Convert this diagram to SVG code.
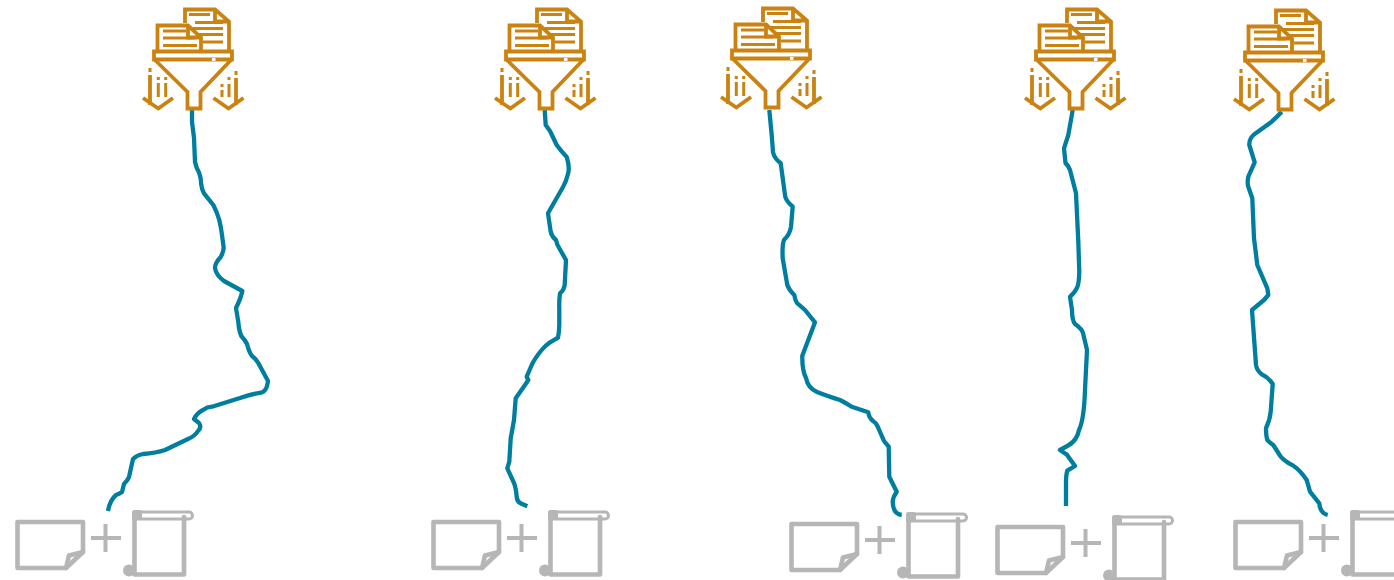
<svg xmlns="http://www.w3.org/2000/svg" width="1394" height="580" viewBox="0 0 1394 580">
<style>
.o{fill:none;stroke:#ca8210;stroke-width:3.8;stroke-linejoin:miter}
.t{stroke-width:3}
.g{fill:none;stroke:#b6b6b6;stroke-width:4.600;stroke-linejoin:round;stroke-linecap:round}
.b{stroke-width:3;}
.p{stroke-width:4;stroke-linecap:butt}
.c{fill:none;stroke:#007ea0;stroke-width:4.300;stroke-linejoin:round;stroke-linecap:butt}
</style>
<defs>
<g id="funnel">
<path class="o" d="M185 23V9.500H215L229 21.500V50M215 9.500V21.500H229"/>
<path class="o t" d="M189 14.500H210M195 22.500H223M192 28.500H223M198 34.500H223M203 42H223"/>
<path class="o" d="M157.500 50V25.500H188L201 37.500V50M188 25.500V37.500H201"/>
<path class="o t" d="M163 31H186M163 38H195M163 45.500H197"/>
<path class="o" d="M154 51.500H232V59.500H154Z"/>
<path d="M212 58H215.500V61H212Z" fill="#fff"/>
<path class="o" d="M155 60L187.500 92V108.500H200.500V92L231 60"/>
<path class="o" d="M143 98L158.300 108.500L173 98M150 75V105M213.500 98L228.500 108.500L243.500 98M236 78V105"/>
<path class="o t" d="M150 68V72M158.300 77V80M158.300 83V97M165.700 77V80M165.700 83V97M236 71V75M229 77V80M229 84V97M222 84V87M222 90V97"/>
</g>
<g id="docs">
<path class="g" d="M83 522H17.500V568H66L83 552Z"/>
<path class="g" d="M83 552L69 555.500L66 568"/>
<path class="g p" d="M91 538H121M105.500 524V552"/>
<path class="g" d="M134.500 514V574.500H184V517"/>
<path class="g b" d="M134 512H189A3.500 3.500 0 0 1 189 519H134Z"/>
<rect x="132" y="510" width="10" height="10" rx="2.500" fill="#b6b6b6"/>
<circle cx="129" cy="570.500" r="6" fill="#b6b6b6"/>
</g>
</defs>
<g id="connectors">
<path class="c" d="M192 110L192 122 194 138 195 162Q196 167 199.300 173.300Q201 178 201.300 185Q202 190 204 193.300L213.300 205Q217 212 219.300 220Q221 227 222 235L223.700 248Q223 253 220.700 257Q215 263 215 268Q216 275 224 281L242.300 291Q241 298 236 308L238.300 322Q239 331 241.300 336Q245 340 247 344Q249 352 252 356Q256 359 258.300 363L268 381Q267 388 265 390Q263 393 257 393.300Q248 395 240 398L212 406.700Q207 407 203 410Q197 413 194 419L199 423Q202 427 198 431Q195 436 188 439L165 450Q156 453 143 454Q137 455 133 459L129 477Q128 480 124 484Q123 488 122 492Q119 494 116 495Q110 500 108 511"/>
<path class="c" d="M544.700 110L545.700 125 550 131 556.700 145Q561 151 566.700 157Q570 167 568 174Q566 182 563 187L548 213.300 550.700 231.700Q552 237 556 240Q557 245 559.300 248.300L566 260 564.700 285Q564 290 560 293.300Q559 300 559.300 310V325Q559 333 558 337.700L550 342.300Q545 346 541.700 350Q535 358 531.700 365L526.700 376.700 528.300 380 525 385 515.700 398.300 514 420 510.700 438.300 509.300 461.700 507.300 468.300 514 483Q516 488 516.700 497Q517 501 520 503L527.300 506.300"/>
<path class="c" d="M769.300 110L771.700 135 773 152Q774 158 780.700 163.300L785 195Q785 200 792.700 206.700L791 226.700Q790 234 784 240Q782 245 782.700 258.300L787.300 285Q789 290 794.300 295Q795 300 797 303L805 310 815 322.300 802.300 355.700Q802 370 806 378Q808 388 817 392Q830 397 840 400Q846 403 851.700 406.700L868.300 412.300Q869 418 873 421Q876 423 877.300 425.700L884 441 888.700 446.700 889.300 476.700 896.700 491.700Q893 497 892.700 501.700Q893 514 901.700 515"/>
<path class="c" d="M1072.700 110L1068.300 135 1064 148.300 1065.500 163 1068 166 1070 170 1076 193.300 1078.300 241.700 1079.300 271.700Q1079 285 1076.700 288.300Q1075 292 1070 296.700L1072 310Q1072 320 1075 324Q1082 329 1083 333L1087 350 1085 390Q1084 420 1079 430Q1077 441 1067.300 446L1060 450 1067.300 455Q1065 452 1070.700 460L1075 466 1067.300 470.700Q1066 475 1066 483V506"/>
<path class="c" d="M1281.700 111.700Q1277 117 1271.700 121.700L1254 134.500Q1249 139 1249.300 145L1254.700 162.300 1248.300 176.700Q1247 183 1248.300 186.700L1252.300 198.300 1254 238.300 1257.300 265 1267.300 288.300 1268.300 295 1264 300 1252 310 1256 365Q1257 371 1262 374.500Q1268 377 1272.700 384L1270.700 411.700Q1270 420 1266 428.300Q1266 436 1267.300 440Q1270 443 1273.300 445L1279 454Q1282 460 1293.300 465.700Q1300 470 1306.700 480L1310 491.700 1319.300 503.300Q1320 513 1327.700 515"/>
</g>
<g id="source-1"><use href="#funnel"/></g>
<g id="source-2"><use href="#funnel" x="352"/></g>
<g id="source-3"><use href="#funnel" x="578" y="-1"/></g>
<g id="source-4"><use href="#funnel" x="882"/></g>
<g id="source-5"><use href="#funnel" x="1091" y="1"/></g>
<g id="target-1"><use href="#docs"/></g>
<g id="target-2"><use href="#docs" x="416"/></g>
<g id="target-3"><use href="#docs" x="774" y="2"/></g>
<g id="target-4"><use href="#docs" x="980" y="5"/></g>
<g id="target-5"><use href="#docs" x="1218"/></g>
</svg>
